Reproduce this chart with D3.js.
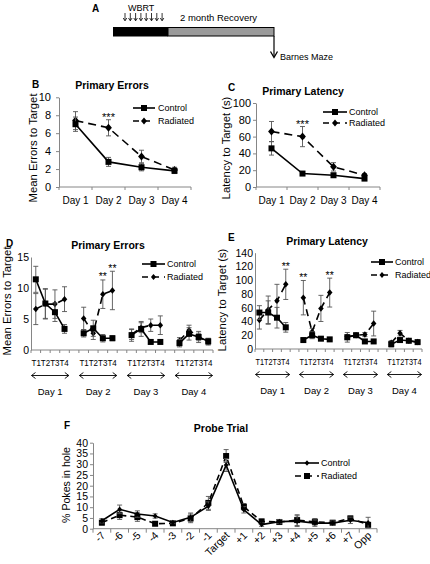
<!DOCTYPE html>
<html><head><meta charset="utf-8">
<script src="https://cdn.jsdelivr.net/npm/d3@7"></script>
<style>
body{margin:0;background:#fff;}
svg text{font-family:"Liberation Sans",Arial,sans-serif;fill:#000;}
</style></head><body>
<svg id="c" width="430" height="564"></svg>
<script>
// ---------- DATA ----------
const days = ["Day 1", "Day 2", "Day 3", "Day 4"];
// Panel B: Primary Errors
const bControl = [7.0, 2.8, 2.2, 1.8];
const bControlErr = [0.8, 0.5, 0.4, 0.3];
const bRadiated = [7.4, 6.6, 3.4, 1.9];
const bRadiatedErr = [1.0, 0.9, 0.7, 0.3];
const bTicks = [0, 2, 4, 6, 8, 10];
const bStars = [{cat: "Day 2", label: "***"}];
// Panel C: Primary Latency
const cControl = [46, 16, 14, 10];
const cControlErr = [8, 2, 2, 2];
const cRadiated = [66, 60, 24, 14];
const cRadiatedErr = [12, 12, 5, 2];
const cTicks = [0, 20, 40, 60, 80, 100];
const cStars = [{cat: "Day 2", label: "***"}];
// Panels D/E: per trial
const trials = ["T1", "T2", "T3", "T4"];
const dControl = [11.4, 7.5, 6.1, 3.4, 2.7, 3.5, 1.9, 1.9, 2.4, 3.4, 1.3, 1.3, 1.1, 2.6, 2.1, 1.4];
const dControlErr = [2.1, 2.4, 1.5, 0.7, 0.6, 1.3, 0.6, 0.4, 1.0, 1.2, 0.3, 0.3, 0.6, 1.0, 0.9, 0.5];
const dRadiated = [6.6, 7.4, 7.4, 8.2, 5.1, 2.7, 9.0, 9.6, 2.5, 3.6, 4.0, 4.0, 1.5, 3.2, 2.1, 1.3];
const dRadiatedErr = [2.5, 2.4, 2.3, 2.0, 1.8, 1.0, 2.3, 3.1, 0.8, 0.8, 1.0, 1.5, 0.5, 0.8, 0.6, 0.5];
const dTicks = [0, 5, 10, 15];
const dStars = [{idx: 6, label: "**"}, {idx: 7, label: "**"}];
const eControl = [53, 53, 45.5, 31.5, 13, 20, 15, 14, 17, 20, 11, 11, 7, 13, 12, 10];
const eControlErr = [10, 17, 15, 7, 2, 5, 2, 2, 7, 3, 2, 2, 4, 3, 3, 2];
const eRadiated = [42, 57, 70, 94, 74.6, 25, 59, 82, 18, 20, 21, 37, 9, 23, 12, 10];
const eRadiatedErr = [13, 20, 24, 22, 25, 5, 19, 21, 3, 3, 3, 18, 3, 4, 2, 2];
const eTicks = [0, 20, 40, 60, 80, 100, 120, 140];
const eStars = [{idx: 3, label: "**"}, {idx: 4, label: "**"}, {idx: 7, label: "**"}];
// Panel F: Probe trial
const holes = ["-7", "-6", "-5", "-4", "-3", "-2", "-1", "Target", "+1", "+2", "+3", "+4", "+5", "+6", "+7", "Opp"];
const fControl = [3.7, 9.0, 6.8, 5.9, 2.9, 5.3, 10.5, 29.6, 8.8, 1.9, 3.3, 3.5, 2.6, 2.6, 3.9, 2.8];
const fControlErr = [1, 2, 1.5, 1, 0.5, 2, 2, 3, 1.5, 0.8, 1, 2.5, 1.5, 1, 1.5, 2.5];
const fRadiated = [2.8, 6.3, 5.4, 2.3, 2.5, 4.8, 12, 33.8, 10.2, 3.4, 3.1, 4.0, 3.2, 2.8, 4.8, 1.8];
const fRadiatedErr = [1, 2, 2, 0.8, 0.8, 2, 3, 3, 1.5, 1, 1, 2.5, 1.5, 1, 1, 1];
const fTicks = [0, 5, 10, 15, 20, 25, 30, 35, 40];

// ---------- HELPERS ----------
const svg = d3.select("#c");
const AXIS = "#868686";
const ERR = "#555";
const SANS = "Liberation Sans, Arial, sans-serif";
const CAL = "Lato, 'Open Sans', sans-serif";

function txt(x, y, s, o = {}) {
  return svg.append("text").attr("x", x).attr("y", y).text(s)
    .attr("font-size", o.fs || 11).attr("font-weight", o.bold ? "bold" : "normal")
    .attr("fill", "#000")
    .attr("text-anchor", o.anchor || "start").attr("font-family", o.font || SANS);
}
function ylabel(cx, cy, s, fs) {
  svg.append("text").attr("transform", `translate(${cx},${cy}) rotate(-90)`)
    .attr("text-anchor", "middle").attr("font-size", fs).attr("font-family", SANS).text(s);
}
function yAxis(y, x0, ticks, o) {
  const ax = d3.axisLeft(y).tickValues(ticks).tickSize(o.ts).tickSizeOuter(0).tickPadding(o.pad).tickFormat(d3.format("d"));
  const a = svg.append("g").attr("transform", `translate(${x0},0)`).call(ax);
  a.select(".domain").attr("stroke", AXIS);
  a.selectAll(".tick line").attr("stroke", AXIS);
  a.selectAll("text").attr("font-size", o.fs).attr("font-family", SANS).attr("fill", "#000");
}
function xAxisBand(x, y0, tick) {
  const [r0, r1] = x.range();
  svg.append("line").attr("x1", r0).attr("x2", r1).attr("y1", y0).attr("y2", y0).attr("stroke", AXIS);
  const n = x.domain().length;
  for (let i = 0; i <= n; i++) {
    const xx = r0 + i * x.step();
    svg.append("line").attr("x1", xx).attr("x2", xx).attr("y1", y0).attr("y2", y0 + tick).attr("stroke", AXIS);
  }
}
function marker(g, shape, cx, cy, s) {
  if (shape === "square") {
    g.append("rect").attr("x", cx - s / 2).attr("y", cy - s / 2).attr("width", s).attr("height", s).attr("fill", "#000");
  } else {
    const r = s / 2;
    g.append("path").attr("d", `M${cx},${cy - r}L${cx + r * 0.85},${cy}L${cx},${cy + r}L${cx - r * 0.85},${cy}Z`).attr("fill", "#000");
  }
}
function series(x, y, keys, vals, errs, groups, st) {
  const g = svg.append("g");
  const cx = i => x(keys[i]) + x.bandwidth() / 2;
  vals.forEach((v, i) => {
    const xx = cx(i), cap = st.cap;
    const t = y(v + errs[i]), b = y(Math.max(0, v - errs[i]));
    g.append("line").attr("x1", xx).attr("x2", xx).attr("y1", t).attr("y2", b).attr("stroke", ERR).attr("stroke-width", 0.9);
    g.append("line").attr("x1", xx - cap).attr("x2", xx + cap).attr("y1", t).attr("y2", t).attr("stroke", ERR).attr("stroke-width", 0.9);
    g.append("line").attr("x1", xx - cap).attr("x2", xx + cap).attr("y1", b).attr("y2", b).attr("stroke", ERR).attr("stroke-width", 0.9);
  });
  const line = d3.line().x(i => cx(i)).y(i => y(vals[i]));
  groups.forEach(gr => {
    g.append("path").attr("d", line(gr)).attr("fill", "none").attr("stroke", "#000")
      .attr("stroke-width", st.lw).attr("stroke-dasharray", st.dash || null);
  });
  vals.forEach((v, i) => marker(g, st.shape, cx(i), y(v), st.size));
}
function legend(x0, x1, tx, y1, y2, s1, s2, sz1, sz2, lw) {
  const g = svg.append("g");
  g.append("line").attr("x1", x0).attr("x2", x1).attr("y1", y1).attr("y2", y1).attr("stroke", "#000").attr("stroke-width", lw);
  marker(g, s1, (x0 + x1) / 2, y1, sz1);
  g.append("line").attr("x1", x0).attr("x2", x1).attr("y1", y2).attr("y2", y2).attr("stroke", "#000").attr("stroke-width", lw).attr("stroke-dasharray", "6,5");
  marker(g, s2, (x0 + x1) / 2, y2, sz2);
  txt(tx, y1 + 3.3, "Control", {fs: 9, font: CAL});
  txt(tx, y2 + 3.3, "Radiated", {fs: 9, font: CAL});
}

// ---------- PANEL A ----------
txt(92, 12, "A", {fs: 10, bold: true});
txt(128, 11, "WBRT", {fs: 9, font: CAL});
for (let i = 0; i < 8; i++) {
  const ax = 125 + i * 5.3;
  svg.append("line").attr("x1", ax).attr("x2", ax).attr("y1", 13).attr("y2", 20.5).attr("stroke", "#000").attr("stroke-width", 0.8);
  svg.append("path").attr("d", `M${ax - 1.8},${18}L${ax},${20.8}L${ax + 1.8},${18}`).attr("fill", "none").attr("stroke", "#000").attr("stroke-width", 0.8);
}
txt(180, 21, "2 month Recovery", {fs: 9.5, font: CAL});
svg.append("rect").attr("x", 113).attr("y", 27).attr("width", 55).attr("height", 9.5).attr("fill", "#000");
svg.append("rect").attr("x", 168).attr("y", 27.5).attr("width", 106).attr("height", 8.5).attr("fill", "#9a9a9a").attr("stroke", "#000").attr("stroke-width", 1);
svg.append("line").attr("x1", 274).attr("x2", 274).attr("y1", 36).attr("y2", 57).attr("stroke", "#000").attr("stroke-width", 1.2);
svg.append("path").attr("d", "M270.5,51.5L274,57.5L277.5,51.5").attr("fill", "none").attr("stroke", "#000").attr("stroke-width", 1.3);
txt(280, 60, "Barnes Maze", {fs: 9, font: CAL});

// ---------- PANEL B ----------
{
  const x = d3.scaleBand().domain(days).range([59, 191]);
  const y = d3.scaleLinear().domain([0, 10]).range([187, 97.3]);
  txt(32, 88, "B", {fs: 10, bold: true});
  txt(112, 89, "Primary Errors", {fs: 10.5, bold: true, anchor: "middle"});
  ylabel(37, 148, "Mean Errors to Target", 11.3);
  yAxis(y, 59, bTicks, {ts: 3, pad: 5, fs: 11});
  xAxisBand(x, 187, 3);
  days.forEach(d => txt(x(d) + x.bandwidth() / 2, 204, d, {fs: 10, font: CAL, anchor: "middle"}));
  const all = [0, 1, 2, 3];
  series(x, y, days, bRadiated, bRadiatedErr, [all], {lw: 1.6, dash: "8,5", shape: "diamond", size: 8, cap: 2.5});
  series(x, y, days, bControl, bControlErr, [all], {lw: 1.6, shape: "square", size: 6, cap: 2.5});
  bStars.forEach(s => {
    const i = days.indexOf(s.cat);
    const top = Math.max(bControl[i] + bControlErr[i], bRadiated[i] + bRadiatedErr[i]);
    txt(x(s.cat) + x.bandwidth() / 2, y(top) + 1, s.label, {fs: 11, anchor: "middle"});
  });
  legend(133, 155, 158, 108, 121, "square", "diamond", 6, 7, 1.6);
}

// ---------- PANEL C ----------
{
  const x = d3.scaleBand().domain(days).range([256, 380]);
  const y = d3.scaleLinear().domain([0, 100]).range([187, 103]);
  txt(228, 91, "C", {fs: 10, bold: true});
  txt(303, 95, "Primary Latency", {fs: 10.5, bold: true, anchor: "middle"});
  ylabel(230, 148, "Latency to Target (s)", 11.3);
  yAxis(y, 256, cTicks, {ts: 3, pad: 2, fs: 11});
  xAxisBand(x, 187, 3);
  days.forEach(d => txt(x(d) + x.bandwidth() / 2, 204, d, {fs: 10, font: CAL, anchor: "middle"}));
  const all = [0, 1, 2, 3];
  series(x, y, days, cRadiated, cRadiatedErr, [all], {lw: 1.6, dash: "8,5", shape: "diamond", size: 8, cap: 2.5});
  series(x, y, days, cControl, cControlErr, [all], {lw: 1.6, shape: "square", size: 6, cap: 2.5});
  cStars.forEach(s => {
    const i = days.indexOf(s.cat);
    const top = Math.max(cControl[i] + cControlErr[i], cRadiated[i] + cRadiatedErr[i]);
    txt(x(s.cat) + x.bandwidth() / 2, y(top) + 1, s.label, {fs: 11, anchor: "middle"});
  });
  legend(323, 347, 349, 112, 123, "square", "diamond", 6, 7, 1.6);
}

// ---------- PANELS D / E ----------
const slotKeys = [];
const dataKeys = [];
days.forEach((d, di) => {
  trials.forEach(t => { slotKeys.push(d + t); dataKeys.push(d + t); });
  if (di < days.length - 1) slotKeys.push("gap" + di);
});
const dayGroups = days.map((d, di) => trials.map((t, ti) => di * 4 + ti));

function trialPanel(o) {
  const x = d3.scaleBand().domain(slotKeys).range(o.xr);
  const y = d3.scaleLinear().domain(o.ydom).range(o.yr);
  txt(o.letterX, o.letterY, o.letter, {fs: 10, bold: true});
  txt(o.titleX, o.titleY, o.title, {fs: 10.5, bold: true, anchor: "middle"});
  ylabel(o.ylabX, o.ylabY, o.ylab, 11.3);
  yAxis(y, o.xr[0], o.ticks, {ts: 0, pad: 2, fs: 10.5});
  xAxisBand(x, o.yr[0], 3);
  const ay = o.yr[0] + 25.5;
  days.forEach((d, di) => {
    const xa = x(d + "T1") + 0.5, xb = x(d + "T4") + x.bandwidth() - 0.5;
    // trial tick labels for this day (T1T2T3T4), each spanning its band
    txt((xa + xb) / 2, o.yr[0] + 16, trials.join(""), {fs: 9, font: CAL, anchor: "middle"})
      .attr("textLength", xb - xa).attr("lengthAdjust", "spacingAndGlyphs");
    svg.append("line").attr("x1", xa).attr("x2", xb).attr("y1", ay).attr("y2", ay).attr("stroke", "#000").attr("stroke-width", 0.9);
    svg.append("path").attr("d", `M${xa + 4},${ay - 3}L${xa},${ay}L${xa + 4},${ay + 3}M${xb - 4},${ay - 3}L${xb},${ay}L${xb - 4},${ay + 3}`)
      .attr("fill", "none").attr("stroke", "#000").attr("stroke-width", 0.9);
    txt((xa + xb) / 2, o.yr[0] + 45, d, {fs: 9.5, font: CAL, anchor: "middle"});
  });
  series(x, y, dataKeys, o.rad, o.radErr, dayGroups, {lw: 1.6, dash: "7,5", shape: "diamond", size: 6.5, cap: 2.5});
  series(x, y, dataKeys, o.ctl, o.ctlErr, dayGroups, {lw: 1.6, shape: "square", size: 6, cap: 2.5});
  o.stars.forEach(s => {
    const top = Math.max(o.ctl[s.idx] + o.ctlErr[s.idx], o.rad[s.idx] + o.radErr[s.idx]);
    txt(x(dataKeys[s.idx]) + x.bandwidth() / 2, y(top) + 0.5, s.label, {fs: 10.5, anchor: "middle"});
  });
  legend(o.lg[0], o.lg[1], o.lg[2], o.lg[3], o.lg[4], "square", "diamond", 6, 6, 1.6);
}
trialPanel({xr: [31, 213], yr: [350, 257], ydom: [0, 15], ticks: dTicks,
  letter: "D", letterX: 6, letterY: 247, title: "Primary Errors", titleX: 108, titleY: 249,
  ylab: "Mean Errors to Target", ylabX: 11, ylabY: 301,
  ctl: dControl, ctlErr: dControlErr, rad: dRadiated, radErr: dRadiatedErr, stars: dStars,
  lg: [142, 165, 167, 264, 277]});
trialPanel({xr: [255, 422], yr: [349, 252.7], ydom: [0, 140], ticks: eTicks,
  letter: "E", letterX: 228, letterY: 241, title: "Primary Latency", titleX: 327, titleY: 245,
  ylab: "Latency to Target (s)", ylabX: 226, ylabY: 300,
  ctl: eControl, ctlErr: eControlErr, rad: eRadiated, radErr: eRadiatedErr, stars: eStars,
  lg: [371, 393, 395, 262, 275]});

// ---------- PANEL F ----------
{
  const x = d3.scaleBand().domain(holes).range([93, 377]);
  const y = d3.scaleLinear().domain([0, 40]).range([528.7, 442.7]);
  txt(64, 429, "F", {fs: 10, bold: true});
  txt(221, 432, "Probe Trial", {fs: 10.5, bold: true, anchor: "middle"});
  ylabel(70, 485, "% Pokes in hole", 10.6);
  yAxis(y, 93, fTicks, {ts: 3, pad: 2, fs: 10.5});
  xAxisBand(x, 528.7, 4);
  holes.forEach(h => {
    const cx = x(h) + x.bandwidth() / 2;
    svg.append("text").attr("transform", `translate(${cx + 4},${536}) rotate(-45)`)
      .attr("text-anchor", "end").attr("font-size", 10.5).attr("font-family", SANS).text(h);
  });
  const all = holes.map((h, i) => i);
  series(x, y, holes, fRadiated, fRadiatedErr, [all], {lw: 1.6, dash: "6,4", shape: "square", size: 6, cap: 2.5});
  series(x, y, holes, fControl, fControlErr, [all], {lw: 1.6, shape: "diamond", size: 5.5, cap: 2.5});
  legend(295, 319, 321, 463, 476, "diamond", "square", 5.5, 6, 1.6);
}
</script>
</body></html>
